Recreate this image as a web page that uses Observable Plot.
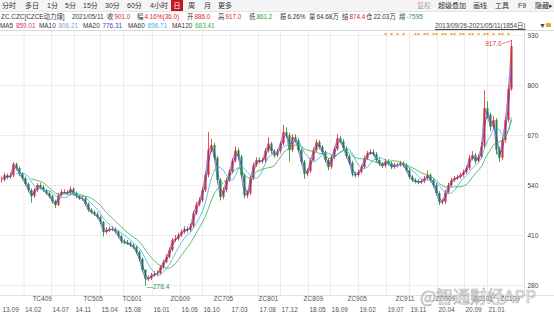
<!DOCTYPE html>
<html><head><meta charset="utf-8">
<script src="https://cdn.jsdelivr.net/npm/d3@7"></script>
<script src="https://cdn.jsdelivr.net/npm/@observablehq/plot@0.6"></script>
<style>
body{margin:0;background:#fff;font-family:"Liberation Sans","Noto Sans CJK SC",sans-serif;}
#wrap{position:relative;width:554px;height:316px;overflow:hidden;}
#bar{position:absolute;left:0;top:0;width:554px;height:11px;background:#f5f5f5;border-bottom:1px solid #e4e4e4;}
#hdr{position:absolute;left:0;top:0;width:554px;height:30px;border-bottom:1px solid #d9d9d9;}
.t{position:absolute;white-space:nowrap;font-size:7px;line-height:9px;color:#333;}
.s{font-size:6.4px;}
.s span{margin-left:1px}
.r{color:#e2262d}.g{color:#1f9a3c}.l{color:#aaa}
#chart{position:absolute;left:0;top:31px;}
#rb{position:absolute;left:524px;top:31px;width:1px;height:264px;background:#dedede;}
#bb{position:absolute;left:0;top:295px;width:554px;height:1px;background:#e2e2e2;}
#wm{position:absolute;left:420px;top:287px;font-size:17px;line-height:18px;font-family:"Noto Sans CJK SC",sans-serif;color:rgba(255,255,255,0.55);-webkit-text-stroke:0.7px rgba(150,150,150,0.75);white-space:nowrap;}
</style></head><body>
<div id="wrap">
<div id="hdr"></div>
<div id="bar"></div>
<div class="t" style="left:2px;top:1px">分时</div>
<div class="t" style="left:25px;top:1px">多日</div>
<div class="t" style="left:47px;top:1px">1分</div>
<div class="t" style="left:65px;top:1px">5分</div>
<div class="t" style="left:83px;top:1px">15分</div>
<div class="t" style="left:105px;top:1px">30分</div>
<div class="t" style="left:127px;top:1px">60分</div>
<div class="t" style="left:150px;top:1px">4小时</div>
<div class="t" style="left:171px;top:0px;width:12px;height:11px;background:#c8161e;color:#fff;text-align:center;line-height:11px">日</div>
<div class="t" style="left:188px;top:1px">周</div>
<div class="t" style="left:204px;top:1px">月</div>
<div class="t" style="left:218px;top:1px">更多</div>
<div class="t l" style="left:417px;top:1px">复权</div>
<div class="t" style="left:438px;top:1px">超级叠加</div>
<div class="t" style="left:473px;top:1px">画线</div>
<div class="t" style="left:495px;top:1px">工具</div>
<div class="t" style="left:518px;top:1px">F9</div>
<div class="t" style="left:535px;top:1px">隐藏▸</div>

<div class="t s" style="left:1px;top:12px">ZC.CZC[CZCE动力煤]</div>
<div class="t s" style="left:72px;top:12px">2021/05/11</div>
<div class="t s" style="left:107px;top:12px">收<span class="r">901.0</span></div>
<div class="t s" style="left:137px;top:12px">幅<span class="r">4.16%(36.0)</span></div>
<div class="t s" style="left:187px;top:12px">开<span class="r">886.0</span></div>
<div class="t s" style="left:218px;top:12px">高<span class="r">917.0</span></div>
<div class="t s" style="left:249px;top:12px">低<span class="g">861.2</span></div>
<div class="t s" style="left:280px;top:12px">振<span>6.26%</span></div>
<div class="t s" style="left:309px;top:12px">量<span>64.68万</span></div>
<div class="t s" style="left:342px;top:12px">结<span class="r">874.4</span></div>
<div class="t s" style="left:366px;top:12px">仓<span>22.03万</span></div>
<div class="t s" style="left:399px;top:12px">增<span class="g">-7595</span></div>

<div id="ma"></div>
<div class="t s" style="left:435px;top:21px;text-decoration:underline;color:#444">2013/09/26-2021/05/11(1854日)</div>
<div class="t" style="left:539px;top:21px;color:#444">▼</div>
<div style="position:absolute;left:546px;top:23px;width:5px;height:4px;background:#f0a020;border-radius:1px"></div>

<div id="chart"></div>
<div id="rb"></div>
<div id="bb"></div>
<div id="wm">@智通财经APP</div>
</div>
<script>
// sampled candles (approx. every 11 trading days), index 0 = 2013/09/26, last = 2021/05/11
const closes = [553,566,561,565,595,584,569,558,543,527,
 511,527,540,535,527,519,511,498,488,514,
 522,522,519,530,519,511,506,506,491,475,
 470,465,457,444,418,423,426,426,420,407,
 394,392,389,384,379,366,348,319,296,298,
 306,309,311,327,340,353,371,397,400,410,
 418,426,423,433,467,490,500,527,566,632,
 644,611,553,509,527,553,575,604,630,614,
 565,513,519,558,592,605,602,604,630,648,
 628,617,628,648,678,670,631,665,657,631,
 600,569,576,605,631,652,639,626,605,587,
 613,634,662,654,636,615,598,569,566,574,
 587,610,623,626,621,605,595,590,602,597,
 587,592,592,597,592,579,561,553,550,548,
 550,558,566,553,540,519,496,496,522,540,
 553,558,561,566,574,584,610,618,602,613,
 641,740,723,692,709,631,611,657,709,790,
 901];
const highs = [562,572,570,571,600,598,588,573,562,547,
 531,532,545,546,540,531,524,515,502,518,
 528,529,527,536,534,523,515,512,510,495,
 480,474,469,461,447,430,432,433,430,424,
 411,399,397,393,388,383,370,352,322,305,
 312,316,318,332,346,360,378,402,410,416,
 424,433,432,440,472,496,508,534,574,678,
 660,650,616,558,534,559,581,610,640,636,
 619,570,526,563,598,612,611,611,636,664,
 652,633,634,654,696,690,676,672,672,662,
 636,605,583,611,637,658,657,644,630,610,
 618,640,672,667,659,641,620,603,575,580,
 593,616,629,633,632,626,610,600,608,607,
 602,598,598,603,602,597,584,566,558,556,
 556,564,578,571,558,545,524,504,527,546,
 559,564,567,572,580,591,618,628,623,620,
 650,786,758,728,720,714,640,664,716,800,
 917];
const lows = [546,549,555,556,560,578,563,552,538,521,
 494,506,522,529,522,514,505,492,480,485,
 510,516,514,515,514,506,501,499,486,470,
 465,460,452,438,406,413,418,420,414,401,
 388,386,384,379,373,360,342,313,278.4,290,
 293,301,303,307,322,336,349,367,392,395,
 405,413,416,418,428,462,485,495,522,560,
 625,604,545,500,503,521,548,570,598,607,
 558,505,506,514,553,587,595,596,598,624,
 621,611,612,622,643,662,601,625,650,625,
 594,556,563,571,600,626,633,620,599,578,
 582,608,629,648,630,609,592,562,559,561,
 569,582,605,618,615,599,589,584,585,591,
 581,582,586,587,586,573,555,547,544,542,
 543,545,553,547,534,512,488,489,491,517,
 535,548,553,556,561,569,579,604,595,597,
 608,636,712,680,685,620,600,605,650,702,
 785];

const maNames  = ["MA5","MA10","MA20","MA60","MA120"];
const maLast   = [859.01, 806.21, 776.31, 696.71, 683.41];
const maWindow = [1, 1, 2, 6, 11];            // in samples of ~11 trading days
const maColors = ["#d8336a","#7fa2d8","#4343d6","#35b5e0","#3aab4c"];

const yTicks = [930, 800, 670, 540, 410, 280];
const dateLabels = ["13.09","14.02","14.07","14.11","15.04","15.08","16.01","16.06","16.10","17.03",
  "17.08","17.12","18.05","18.09","19.02","19.07","19.11","20.04","20.09","21.01"];
const dateIdx = [0,7.5,16.7,24.3,33,40.7,50.3,59.7,67,76.3,85.7,93,102.3,109.7,119,128.3,136,145.3,154.3,162];
const contracts = ["TC409","TC505","TC601","ZC609","ZC705","ZC801","ZC809","ZC905","ZC911","ZC009","ZC101","ZC109"];
const contractIdx = [10.3,27.3,40.3,56.3,70.7,85.7,100.7,115.3,131.3,144.7,157.3,166.3];
const markerIdx = [128,130,132,134,138,139,141,142,144,145,147,148,150,151,153,154,156,157,159,161,162,164,166,167,169];

// MA legend row
const maDiv = document.getElementById("ma");
const maLeft = [0, 39, 83, 128, 172];
maNames.forEach((n, k) => {
  const d = document.createElement("div");
  d.className = "t s";
  d.style.left = maLeft[k] + "px"; d.style.top = "21px";
  d.innerHTML = n + ' <span style="color:' + maColors[k] + '">' + maLast[k].toFixed(2) + '</span>';
  maDiv.appendChild(d);
});

const UP = "#dd2c2a", DOWN = "#24883a";
const data = closes.map((c, i) => ({i, o: i ? closes[i - 1] : c, c, h: highs[i], l: lows[i]}));
data.forEach(d => d.col = d.c >= d.o ? UP : DOWN);
const ticks = dateLabels.map((t, k) => ({t, i: dateIdx[k]}));
const ctr = contracts.map((t, k) => ({t, i: contractIdx[k]}));
const lowPt = data.reduce((a, b) => b.l < a.l ? b : a);
const highPt = data.reduce((a, b) => b.h > a.h ? b : a);

const maMarks = maNames.map((n, k) =>
  Plot.lineY(data, Plot.windowY({k: maWindow[k], anchor: "end", strict: true},
    {x: "i", y: "c", stroke: maColors[k], strokeWidth: k < 2 ? 0.7 : 0.8}))
);

const chart = Plot.plot({
  width: 554, height: 285,
  marginTop: 4, marginBottom: 31, marginLeft: 1, marginRight: 30,
  x: {domain: [0, 174.33], axis: null},
  y: {domain: [280, 930], axis: null},
  color: {type: "identity"},
  style: {fontFamily: "'Liberation Sans','Noto Sans CJK SC',sans-serif", fontSize: "6.5px", background: "transparent", overflow: "visible"},
  marks: [
    Plot.ruleY(yTicks, {stroke: "#ececec", insetLeft: -1}),
    Plot.ruleX(ticks.slice(1), {x: "i", stroke: "#ececec", insetTop: -4, insetBottom: -10}),
    maMarks[0], maMarks[1],
    Plot.ruleX(data, {x: "i", y1: "l", y2: "h", stroke: "col", strokeWidth: 0.8}),
    Plot.ruleX(data, {x: "i", y1: "o", y2: "c", stroke: "col", strokeWidth: 2}),
    maMarks[2], maMarks[3], maMarks[4],
    Plot.text(yTicks, {y: d => d, text: d => String(d), frameAnchor: "right", dx: 3, textAnchor: "start", fill: "#444"}),
    Plot.text(ticks, {x: "i", text: "t", frameAnchor: "bottom", dy: 26, dx: 1, textAnchor: "start", fill: "#555"}),
    Plot.text(ctr, {x: "i", text: "t", frameAnchor: "bottom", dy: 15, textAnchor: "start", fill: "#555"}),
    Plot.dot(markerIdx, {x: d => d, frameAnchor: "top", dy: -1.5, symbol: "square", r: 1.1, fill: "#f2a33a", stroke: null}),
    Plot.text([lowPt], {x: "i", y: "l", text: d => "—" + d.l, dx: 1, dy: 1, textAnchor: "start", fill: "#2a9a48"}),
    Plot.link([highPt], {x1: d => d.i - 3, y1: d => d.h - 8, x2: "i", y2: "h", stroke: "#e0302f", strokeWidth: 0.6}),
    Plot.text([highPt], {x: d => d.i - 3, y: d => d.h - 8, text: d => d.h.toFixed(1), dx: -1, textAnchor: "end", fill: "#e0302f"})
  ]
});
document.getElementById("chart").appendChild(chart);
</script>
</body></html>
